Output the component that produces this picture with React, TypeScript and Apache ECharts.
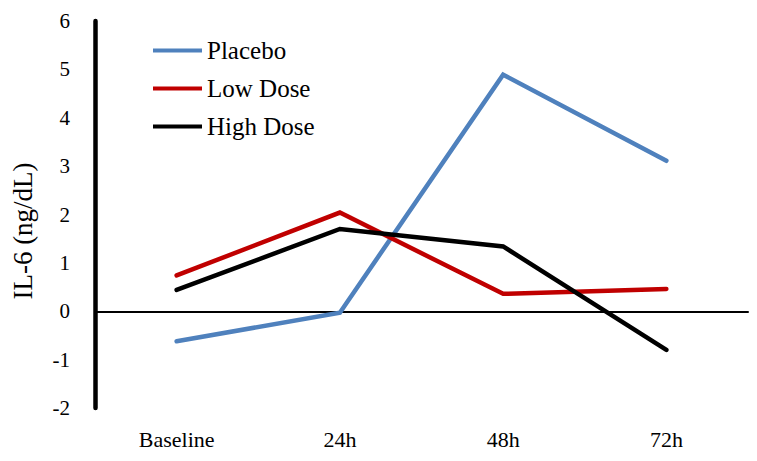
import React, { useEffect, useRef } from "react";
import * as echarts from "echarts";

const categories = ["Baseline", "24h", "48h", "72h"];
const placebo = [-0.62, -0.03, 4.89, 3.11];
const lowDose = [0.74, 2.04, 0.36, 0.46];
const highDose = [0.44, 1.7, 1.34, -0.8];
const yTicks = { min: -2, max: 6, interval: 1 };

const FONT = "Liberation Serif, serif";

export default function App() {
  const ref = useRef<HTMLDivElement>(null);
  useEffect(() => {
    if (!ref.current) return;
    const chart = echarts.init(ref.current, null, { renderer: "svg" });
    const lineSeries = (name: string, data: number[], color: string) => ({
      name,
      type: "line",
      data,
      symbol: "none",
      xAxisIndex: 0,
      yAxisIndex: 0,
      lineStyle: { color, width: 4.5, cap: "round", join: "miter" },
      itemStyle: { color },
      z: 3,
    });
    chart.setOption({
      animation: false,
      backgroundColor: "#ffffff",
      textStyle: { fontFamily: FONT },
      grid: { left: 95, right: 9, top: 21, bottom: 53 },
      legend: {
        orient: "vertical",
        left: 153,
        top: 38,
        padding: 0,
        icon: "rect",
        itemWidth: 49,
        itemHeight: 4,
        itemGap: 13,
        textStyle: { fontFamily: FONT, fontSize: 25, color: "#000", lineHeight: 25 },
        data: ["Placebo", "Low Dose", "High Dose"],
      },
      xAxis: [
        {
          type: "category",
          data: categories,
          boundaryGap: true,
          axisLine: { show: false, onZero: false },
          axisTick: { show: false },
          axisLabel: { fontFamily: FONT, fontSize: 22, color: "#000", margin: 20 },
          splitLine: { show: false },
        },
        {
          type: "category",
          data: categories,
          position: "bottom",
          axisLine: { show: true, onZero: true, lineStyle: { color: "#000", width: 2 } },
          axisTick: { show: false },
          axisLabel: { show: false },
          splitLine: { show: false },
        },
      ],
      yAxis: {
        type: "value",
        min: yTicks.min,
        max: yTicks.max,
        interval: yTicks.interval,
        axisLine: { show: true, onZero: false, lineStyle: { color: "#000", width: 4.5 } },
        axisTick: { show: false },
        splitLine: { show: false },
        axisLabel: { fontFamily: FONT, fontSize: 21, color: "#000", margin: 25 },
      },
      graphic: [
        {
          type: "text",
          x: 23,
          y: 231,
          rotation: Math.PI / 2,
          style: {
            text: "IL-6 (ng/dL)",
            fontFamily: FONT,
            fontSize: 27,
            fill: "#000",
            align: "center",
            verticalAlign: "middle",
          },
        },
      ],
      series: [
        lineSeries("Placebo", placebo, "#4F81BD"),
        lineSeries("Low Dose", lowDose, "#C00000"),
        lineSeries("High Dose", highDose, "#000000"),
      ],
    });
    return () => chart.dispose();
  }, []);
  return <div ref={ref} style={{ width: 757, height: 461, margin: -8 }} />;
}
